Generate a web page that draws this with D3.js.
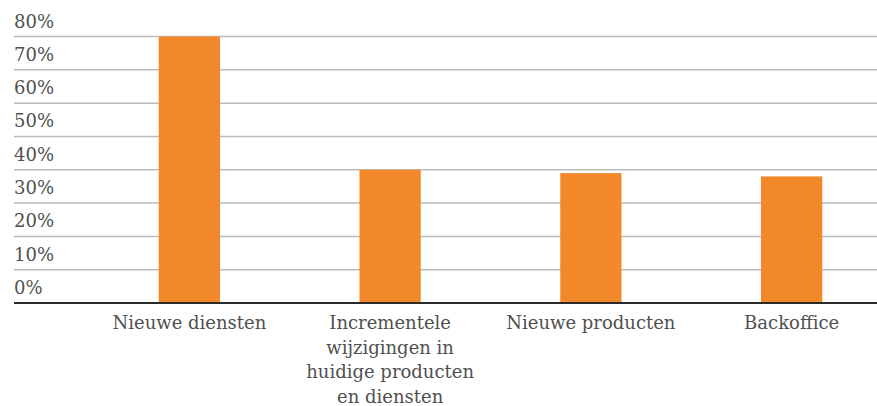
<!DOCTYPE html>
<html>
<head>
<meta charset="utf-8">
<script src="https://cdn.jsdelivr.net/npm/d3@7"></script>
<style>
  html, body { margin: 0; padding: 0; background: #fff; }
  svg { display: block; }
  text { font-family: "DejaVu Serif", "Liberation Serif", serif; fill: #505050; }
</style>
</head>
<body>
<svg id="chart" width="877" height="406"></svg>
<script>
// Categories and their shares
const categories = [
  ["Nieuwe diensten"],
  ["Incrementele", "wijzigingen in", "huidige producten", "en diensten"],
  ["Nieuwe producten"],
  ["Backoffice"]
];
const values = [80, 40, 39, 38];
const tickValues = [0, 10, 20, 30, 40, 50, 60, 70, 80];
const tickLabels = ["0%", "10%", "20%", "30%", "40%", "50%", "60%", "70%", "80%"];

const svg = d3.select("#chart");
const gridLeft = 14, gridRight = 877;
const baseY = 303, topY = 36.5;

const y = d3.scaleLinear().domain([0, 80]).range([baseY, topY]);
const x = d3.scaleBand()
  .domain(d3.range(categories.length))
  .range([89, 892])
  .paddingInner(0.695)
  .paddingOuter(0.3475);

// horizontal gridlines
svg.append("g")
  .selectAll("line")
  .data(tickValues.filter(v => v > 0))
  .join("line")
  .attr("x1", gridLeft).attr("x2", gridRight)
  .attr("y1", d => y(d)).attr("y2", d => y(d))
  .attr("stroke", "#b9bcbf")
  .attr("stroke-width", 1.5);

// tick labels sit just above their gridlines
svg.append("g")
  .selectAll("text")
  .data(tickValues)
  .join("text")
  .attr("x", gridLeft)
  .attr("y", d => y(d) - 9)
  .attr("font-size", 18)
  .text((d, i) => tickLabels[i]);

// bars
svg.append("g")
  .selectAll("rect")
  .data(values)
  .join("rect")
  .attr("x", (d, i) => x(i))
  .attr("width", x.bandwidth())
  .attr("y", d => y(d))
  .attr("height", d => baseY - y(d))
  .attr("fill", "#f2882a");

// baseline
svg.append("line")
  .attr("x1", gridLeft).attr("x2", gridRight)
  .attr("y1", baseY).attr("y2", baseY)
  .attr("stroke", "#2b2b2b")
  .attr("stroke-width", 2);

// category labels
const lab = svg.append("g")
  .selectAll("text")
  .data(categories)
  .join("text")
  .attr("text-anchor", "middle")
  .attr("font-size", 18)
  .attr("x", (d, i) => x(i) + x.bandwidth() / 2)
  .attr("y", 329);
lab.selectAll("tspan")
  .data(d => d)
  .join("tspan")
  .attr("x", function() { return d3.select(this.parentNode).attr("x"); })
  .attr("dy", (d, i) => i === 0 ? 0 : 24.5)
  .text(d => d);
</script>
</body>
</html>
